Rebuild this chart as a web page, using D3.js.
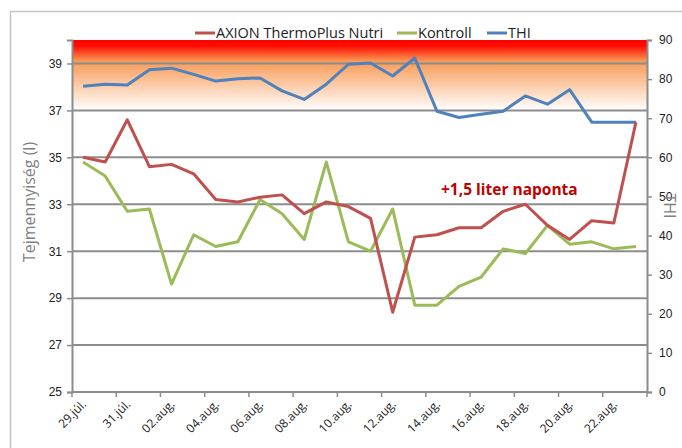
<!DOCTYPE html>
<html>
<head>
<meta charset="utf-8">
<script src="https://cdn.jsdelivr.net/npm/d3@7"></script>
<style>
  body { margin: 0; background: #fff; }
  svg { font-family: "Open Sans", sans-serif; }
</style>
</head>
<body>
<div id="chart"></div>
<script>
// data
var days = ["29.júl.", "30.júl.", "31.júl.", "01.aug.", "02.aug.", "03.aug.", "04.aug.", "05.aug.",
  "06.aug.", "07.aug.", "08.aug.", "09.aug.", "10.aug.", "11.aug.", "12.aug.", "13.aug.",
  "14.aug.", "15.aug.", "16.aug.", "17.aug.", "18.aug.", "19.aug.", "20.aug.", "21.aug.",
  "22.aug.", "23.aug."];
var axion = [35.0, 34.8, 36.6, 34.6, 34.7, 34.3, 33.2, 33.1, 33.3, 33.4, 32.6, 33.1, 32.9,
  32.4, 28.4, 31.6, 31.7, 32.0, 32.0, 32.7, 33.0, 32.1, 31.5, 32.3, 32.2, 36.5];
var kontroll = [34.8, 34.2, 32.7, 32.8, 29.6, 31.7, 31.2, 31.4, 33.2, 32.6, 31.5, 34.8, 31.4,
  31.0, 32.8, 28.7, 28.7, 29.5, 29.9, 31.1, 30.9, 32.1, 31.3, 31.4, 31.1, 31.2];
var thi = [78.2, 78.7, 78.5, 82.4, 82.8, 81.2, 79.5, 80.1, 80.3, 77.0, 74.8, 78.7, 83.8,
  84.1, 80.8, 85.4, 71.8, 70.2, 71.0, 71.8, 75.7, 73.6, 77.3, 69.0, 69.0, 69.0];
var leftTicks = [25, 27, 29, 31, 33, 35, 37, 39];
var rightTicks = [0, 10, 20, 30, 40, 50, 60, 70, 80, 90];

var W = 682, H = 448;
var margin = { top: 40, right: 35, bottom: 56, left: 72 };
var width = 647 - margin.left, height = 392 - margin.top;

var svg = d3.select("#chart").append("svg")
  .attr("width", W).attr("height", H);

// outer chart border
svg.append("rect")
  .attr("x", 10.5).attr("y", 11.5)
  .attr("width", 700).attr("height", 500)
  .attr("fill", "none").attr("stroke", "#c4c4c4").attr("stroke-width", 1.5);

var g = svg.append("g")
  .attr("transform", "translate(" + margin.left + "," + margin.top + ")");

var x = d3.scaleBand().domain(days).range([0, width]);
var yL = d3.scaleLinear().domain([25, 40]).range([height, 0]);
var yR = d3.scaleLinear().domain([0, 90]).range([height, 0]);

// heat gradient above 37
var grad = svg.append("defs").append("linearGradient")
  .attr("id", "heat").attr("x1", 0).attr("y1", 0).attr("x2", 0).attr("y2", 1);
grad.append("stop").attr("offset", "0%").attr("stop-color", "#ff0000");
grad.append("stop").attr("offset", "8%").attr("stop-color", "#ff0a00");
grad.append("stop").attr("offset", "30%").attr("stop-color", "#f89a55");
grad.append("stop").attr("offset", "100%").attr("stop-color", "#ffffff");

g.append("rect")
  .attr("x", 0).attr("y", yL(40))
  .attr("width", width).attr("height", yL(37) - yL(40))
  .attr("fill", "url(#heat)");

// gridlines
g.selectAll(".grid").data(leftTicks.slice(1)).enter().append("line")
  .attr("x1", 0).attr("x2", width)
  .attr("y1", function (d) { return yL(d); })
  .attr("y2", function (d) { return yL(d); })
  .attr("stroke", "#8c8c8c").attr("stroke-width", 2);

// left axis
var axL = g.append("g").call(d3.axisLeft(yL).tickValues(leftTicks).tickSize(5).tickPadding(5));
axL.select(".domain").attr("stroke", "#8c8c8c").attr("stroke-width", 2);
axL.selectAll(".tick line").attr("stroke", "#8c8c8c").attr("stroke-width", 1.5);
axL.selectAll("text").attr("font-size", 12).attr("fill", "#222");

// right axis
var axR = g.append("g").attr("transform", "translate(" + width + ",0)")
  .call(d3.axisRight(yR).tickValues(rightTicks).tickSize(5).tickPadding(7));
axR.select(".domain").attr("stroke", "#8c8c8c").attr("stroke-width", 2);
axR.selectAll(".tick line").attr("stroke", "#8c8c8c").attr("stroke-width", 1.5);
axR.selectAll("text").attr("font-size", 12).attr("fill", "#222");

// bottom axis: ticks every 2 days at category boundaries
var bottom = g.append("g").attr("transform", "translate(0," + height + ")");
bottom.append("line").attr("x1", 0).attr("x2", width)
  .attr("stroke", "#8c8c8c").attr("stroke-width", 2);
var tickDays = days.filter(function (d, i) { return i % 2 == 0; });
bottom.selectAll(".xt").data(tickDays.concat(["end"])).enter().append("line")
  .attr("x1", function (d) { return d == "end" ? width : x(d); })
  .attr("x2", function (d) { return d == "end" ? width : x(d); })
  .attr("y1", 0).attr("y2", 5)
  .attr("stroke", "#8c8c8c").attr("stroke-width", 1.5);
bottom.selectAll(".xl").data(tickDays).enter().append("text")
  .attr("transform", function (d) {
    return "translate(" + (x(d) + x.bandwidth() / 2 + 4) + ",13) rotate(-45)";
  })
  .attr("text-anchor", "end")
  .attr("font-size", 12).attr("fill", "#222")
  .text(function (d) { return d; });

// lines
function drawLine(vals, scale, color) {
  var line = d3.line()
    .x(function (d, i) { return x(days[i]) + x.bandwidth() / 2; })
    .y(function (d) { return scale(d); });
  g.append("path").datum(vals)
    .attr("d", line)
    .attr("fill", "none").attr("stroke", color)
    .attr("stroke-width", 3).attr("stroke-linejoin", "round");
}
drawLine(thi, yR, "#4f81bd");
drawLine(kontroll, yL, "#9bbb59");
drawLine(axion, yL, "#c0504d");

// annotation
g.append("text")
  .attr("x", 441 - margin.left).attr("y", yL(33.4))
  .attr("font-size", 15.5).attr("font-weight", "bold").attr("fill", "#c00000")
  .text("+1,5 liter naponta");

// axis titles
svg.append("text")
  .attr("transform", "translate(35,202) rotate(-90)")
  .attr("text-anchor", "middle").attr("font-size", 16).attr("fill", "#7f7f7f")
  .text("Tejmennyiség (l)");
svg.append("text")
  .attr("transform", "translate(664,206) rotate(90)")
  .attr("text-anchor", "middle").attr("font-size", 16).attr("fill", "#7f7f7f")
  .text("THI");

// legend
var legend = [["AXION ThermoPlus Nutri", "#c0504d", 195], ["Kontroll", "#9bbb59", 397], ["THI", "#4f81bd", 487]];
var lg = svg.selectAll(".lg").data(legend).enter().append("g");
lg.append("line")
  .attr("x1", function (d) { return d[2]; }).attr("x2", function (d) { return d[2] + 20; })
  .attr("y1", 33).attr("y2", 33)
  .attr("stroke", function (d) { return d[1]; }).attr("stroke-width", 3);
lg.append("text")
  .attr("x", function (d) { return d[2] + 21; }).attr("y", 38)
  .attr("font-size", 14.5).attr("fill", "#222")
  .text(function (d) { return d[0]; });
</script>
</body>
</html>
